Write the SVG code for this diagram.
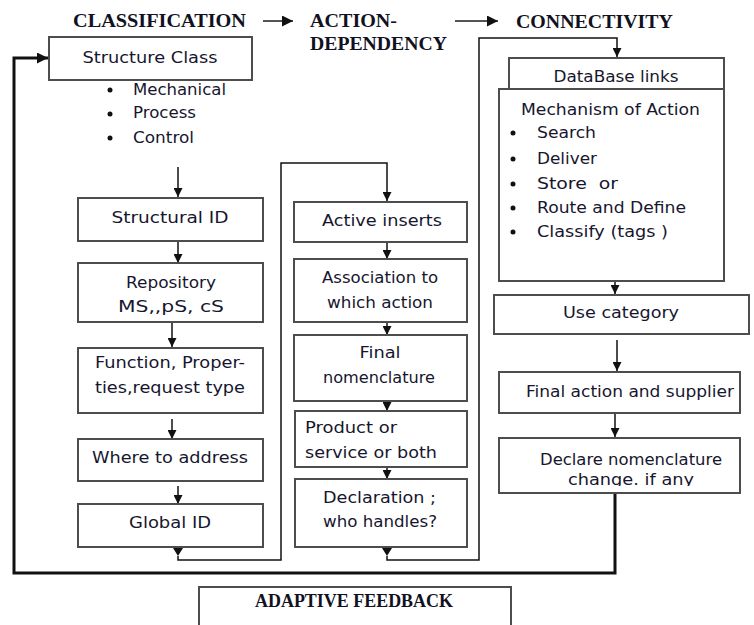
<svg xmlns="http://www.w3.org/2000/svg" width="754" height="625" viewBox="0 0 754 625">
  <style>
    .box { fill: #ffffff; stroke: #4d4d4d; stroke-width: 2; }
    .t { font-family: "Comic Sans MS", "DejaVu Sans", sans-serif; font-size: 16px; fill: #16162e; }
    .h { font-family: "Liberation Serif", "Times New Roman", serif; font-weight: bold; font-size: 18px; fill: #111122; }
    .c { fill: none; stroke: #111111; stroke-width: 1.5; }
    .thick { fill: none; stroke: #111111; stroke-width: 3; }
    .dot { fill: #111111; }
  </style>
  <defs>
    <marker id="ah" viewBox="0 0 10 10" refX="10" refY="5" markerWidth="9" markerHeight="9" markerUnits="userSpaceOnUse" orient="auto">
      <path d="M0,0 L10,5 L0,10 z" fill="#111111"/>
    </marker>
    <marker id="ahl" viewBox="0 0 10 10" refX="10" refY="5" markerWidth="11" markerHeight="11" markerUnits="userSpaceOnUse" orient="auto">
      <path d="M0,0 L10,5 L0,10 z" fill="#111111"/>
    </marker>
    <clipPath id="clipDeclare">
      <rect x="499" y="438" width="241" height="48"/>
    </clipPath>
  </defs>

  <!-- stage headings -->
  <g id="headings">
    <text class="h" x="73" y="27" textLength="173" lengthAdjust="spacingAndGlyphs">CLASSIFICATION</text>
    <text class="h" x="310" y="27" textLength="87" lengthAdjust="spacingAndGlyphs">ACTION-</text>
    <text class="h" x="310" y="50" textLength="137" lengthAdjust="spacingAndGlyphs">DEPENDENCY</text>
    <text class="h" x="516" y="28" textLength="157" lengthAdjust="spacingAndGlyphs">CONNECTIVITY</text>
  </g>

  <!-- connectors -->
  <g id="connectors">
    <line x1="263" y1="21" x2="293" y2="21" stroke="#555555" stroke-width="2" marker-end="url(#ahl)"/>
    <line x1="455" y1="21" x2="498" y2="21" stroke="#555555" stroke-width="2" marker-end="url(#ahl)"/>

    <!-- adaptive feedback loop -->
    <path class="thick" d="M615,494 V573 H14 V58 H48" marker-end="url(#ahl)"/>

    <!-- classification column -->
    <line class="c" x1="178" y1="167" x2="178" y2="197" marker-end="url(#ah)"/>
    <line class="c" x1="178" y1="241" x2="178" y2="263" marker-end="url(#ah)"/>
    <line class="c" x1="172" y1="322" x2="172" y2="347" marker-end="url(#ah)"/>
    <line class="c" x1="172" y1="419" x2="172" y2="439" marker-end="url(#ah)"/>
    <line class="c" x1="178" y1="486" x2="178" y2="504" marker-end="url(#ah)"/>
    <polygon class="dot" points="173,548 183,548 178,556"/>
    <path class="c" d="M178,556 V560 H281 V163 H387 V201" marker-end="url(#ah)"/>

    <!-- action-dependency column -->
    <line class="c" x1="387" y1="242" x2="387" y2="259" marker-end="url(#ah)"/>
    <line class="c" x1="387" y1="322" x2="387" y2="335" marker-end="url(#ah)"/>
    <line class="c" x1="387" y1="401" x2="387" y2="411" marker-end="url(#ah)"/>
    <line class="c" x1="387" y1="467" x2="387" y2="479" marker-end="url(#ah)"/>
    <polygon class="dot" points="382,548 392,548 387,556"/>
    <path class="c" d="M387,556 V560 H479 V38 H617 V57" marker-end="url(#ah)"/>

    <!-- connectivity column -->
    <line class="c" x1="615" y1="256" x2="615" y2="294" marker-end="url(#ah)"/>
    <line class="c" x1="617" y1="340" x2="617" y2="371" marker-end="url(#ah)"/>
    <line class="c" x1="615" y1="413" x2="615" y2="437" marker-end="url(#ah)"/>
  </g>

  <!-- classification -->
  <g id="structure-class">
    <rect class="box" x="49" y="37" width="203" height="43"/>
    <text class="t" x="150" y="63" text-anchor="middle" font-size="18" textLength="135" lengthAdjust="spacingAndGlyphs">Structure Class</text>
    <circle class="dot" cx="110" cy="90" r="2.5"/>
    <text class="t" x="133" y="95" textLength="93" lengthAdjust="spacingAndGlyphs">Mechanical</text>
    <circle class="dot" cx="110" cy="114" r="2.5"/>
    <text class="t" x="133" y="118" textLength="63" lengthAdjust="spacingAndGlyphs">Process</text>
    <circle class="dot" cx="110" cy="138" r="2.5"/>
    <text class="t" x="133" y="143" textLength="61" lengthAdjust="spacingAndGlyphs">Control</text>
  </g>
  <g id="structural-id">
    <rect class="box" x="78" y="198" width="185" height="43"/>
    <text class="t" x="170" y="223" text-anchor="middle" textLength="117" lengthAdjust="spacingAndGlyphs">Structural ID</text>
  </g>
  <g id="repository">
    <rect class="box" x="78" y="263" width="185" height="59"/>
    <text class="t" x="171" y="288" text-anchor="middle" textLength="90" lengthAdjust="spacingAndGlyphs">Repository</text>
    <text class="t" x="171" y="312" text-anchor="middle" textLength="106" lengthAdjust="spacingAndGlyphs">MS,,pS, cS</text>
  </g>
  <g id="function">
    <rect class="box" x="78" y="348" width="185" height="65"/>
    <text class="t" x="95" y="368" textLength="150" lengthAdjust="spacingAndGlyphs">Function, Proper-</text>
    <text class="t" x="95" y="393" textLength="150" lengthAdjust="spacingAndGlyphs">ties,request type</text>
  </g>
  <g id="where-to-address">
    <rect class="box" x="78" y="439" width="185" height="42"/>
    <text class="t" x="170" y="463" text-anchor="middle" textLength="156" lengthAdjust="spacingAndGlyphs">Where to address</text>
  </g>
  <g id="global-id">
    <rect class="box" x="78" y="504" width="185" height="43"/>
    <text class="t" x="170" y="528" text-anchor="middle" textLength="82" lengthAdjust="spacingAndGlyphs">Global ID</text>
  </g>

  <!-- action-dependency -->
  <g id="active-inserts">
    <rect class="box" x="294" y="202" width="173" height="40"/>
    <text class="t" x="382" y="226" text-anchor="middle" textLength="120" lengthAdjust="spacingAndGlyphs">Active inserts</text>
  </g>
  <g id="association">
    <rect class="box" x="294" y="259" width="173" height="63"/>
    <text class="t" x="380" y="283" text-anchor="middle" textLength="116" lengthAdjust="spacingAndGlyphs">Association to</text>
    <text class="t" x="380" y="308" text-anchor="middle" textLength="106" lengthAdjust="spacingAndGlyphs">which action</text>
  </g>
  <g id="final-nomenclature">
    <rect class="box" x="294" y="335" width="173" height="66"/>
    <text class="t" x="380" y="358" text-anchor="middle" textLength="41" lengthAdjust="spacingAndGlyphs">Final</text>
    <text class="t" x="379" y="383" text-anchor="middle" textLength="112" lengthAdjust="spacingAndGlyphs">nomenclature</text>
  </g>
  <g id="product-or-service">
    <rect class="box" x="295" y="411" width="172" height="56"/>
    <text class="t" x="305" y="433" textLength="92" lengthAdjust="spacingAndGlyphs">Product or</text>
    <text class="t" x="305" y="458" textLength="132" lengthAdjust="spacingAndGlyphs">service or both</text>
  </g>
  <g id="declaration">
    <rect class="box" x="295" y="479" width="172" height="68"/>
    <text class="t" x="323" y="503" textLength="113" lengthAdjust="spacingAndGlyphs">Declaration ;</text>
    <text class="t" x="323" y="527" textLength="114" lengthAdjust="spacingAndGlyphs">who handles?</text>
  </g>

  <!-- connectivity -->
  <g id="database-links">
    <rect class="box" x="509" y="58" width="215" height="42"/>
    <text class="t" x="616" y="82" text-anchor="middle" textLength="125" lengthAdjust="spacingAndGlyphs">DataBase links</text>
  </g>
  <g id="mechanism-of-action">
    <rect class="box" x="499" y="89" width="225" height="192"/>
    <text class="t" x="521" y="115" textLength="179" lengthAdjust="spacingAndGlyphs">Mechanism of Action</text>
    <circle class="dot" cx="513" cy="133" r="2.5"/>
    <text class="t" x="537" y="138" textLength="59" lengthAdjust="spacingAndGlyphs">Search</text>
    <circle class="dot" cx="513" cy="159" r="2.5"/>
    <text class="t" x="537" y="164" textLength="60" lengthAdjust="spacingAndGlyphs">Deliver</text>
    <circle class="dot" cx="513" cy="184" r="2.5"/>
    <text class="t" x="537" y="189" textLength="81" lengthAdjust="spacingAndGlyphs" xml:space="preserve">Store  or</text>
    <circle class="dot" cx="513" cy="208" r="2.5"/>
    <text class="t" x="537" y="213" textLength="149" lengthAdjust="spacingAndGlyphs">Route and Define</text>
    <circle class="dot" cx="513" cy="232" r="2.5"/>
    <text class="t" x="537" y="237" textLength="131" lengthAdjust="spacingAndGlyphs">Classify (tags )</text>
  </g>
  <g id="use-category">
    <rect class="box" x="494" y="295" width="255" height="39"/>
    <text class="t" x="621" y="318" text-anchor="middle" textLength="116" lengthAdjust="spacingAndGlyphs">Use category</text>
  </g>
  <g id="final-action">
    <rect class="box" x="499" y="372" width="241" height="41"/>
    <text class="t" x="526" y="397" textLength="208" lengthAdjust="spacingAndGlyphs">Final action and supplier</text>
  </g>
  <g id="declare-nomenclature">
    <rect class="box" x="499" y="438" width="241" height="55"/>
    <text class="t" x="540" y="465" textLength="182" lengthAdjust="spacingAndGlyphs">Declare nomenclature</text>
    <text class="t" x="568" y="485" textLength="126" lengthAdjust="spacingAndGlyphs" clip-path="url(#clipDeclare)">change. if any</text>
  </g>

  <!-- feedback label -->
  <g id="adaptive-feedback">
    <rect class="box" x="199" y="587" width="312" height="50"/>
    <text class="h" x="255" y="607" font-size="17" textLength="198" lengthAdjust="spacingAndGlyphs">ADAPTIVE FEEDBACK</text>
  </g>
</svg>
